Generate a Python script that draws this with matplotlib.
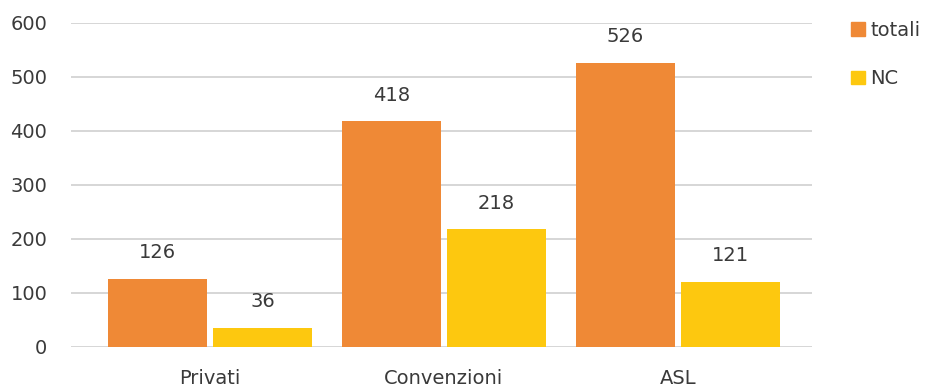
import numpy as np
import matplotlib.pyplot as plt
from matplotlib.patches import Patch

categories = ['Privati', 'Convenzioni', 'ASL']
totali = [126, 418, 526]
nc = [36, 218, 121]
series_names = ['totali', 'NC']
colors = ['#EF8936', '#FDC80F']

plt.rcParams['font.family'] = ['DejaVu Sans']
text_color = '#3A3A3A'
fs = 14

fig = plt.figure(figsize=(9.33, 3.87), dpi=100)
ax = fig.add_axes([71 / 933, 1 - 347 / 387, (812 - 71) / 933, (347 - 23) / 387])

x = np.arange(len(categories))
w = 0.423
off = 0.224
for vals, dx, col in [(totali, -off, colors[0]), (nc, off, colors[1])]:
    bars = ax.bar(x + dx, vals, width=w, color=col, zorder=2)
    for b, v in zip(bars, vals):
        ax.annotate(str(v), (b.get_x() + b.get_width() / 2, v),
                    xytext=(0, 12), textcoords='offset points',
                    ha='center', va='bottom', fontsize=fs, color=text_color)

ax.set_ylim(0, 600)
ax.set_yticks(range(0, 601, 100))
ax.set_xlim(-0.594, 2.573)
ax.set_xticks(x)
ax.set_xticklabels(categories)
ax.yaxis.grid(True, color='#CFCFCF', linewidth=1.2, zorder=0)
ax.set_axisbelow(True)
for s in ax.spines.values():
    s.set_visible(False)
ax.tick_params(axis='both', length=0, labelsize=fs, colors=text_color)
ax.tick_params(axis='x', pad=16)
ax.tick_params(axis='y', pad=17)

handles = [Patch(color=c) for c in colors]
fig.legend(handles, series_names, loc='upper left', bbox_to_anchor=(851 / 933, 1 - 21 / 387),
           frameon=False, fontsize=fs, handlelength=0.7, handleheight=0.7,
           handletextpad=0.3, labelspacing=1.5, labelcolor=text_color,
           borderpad=0, borderaxespad=0)

fig.savefig('out.png', dpi=100)
